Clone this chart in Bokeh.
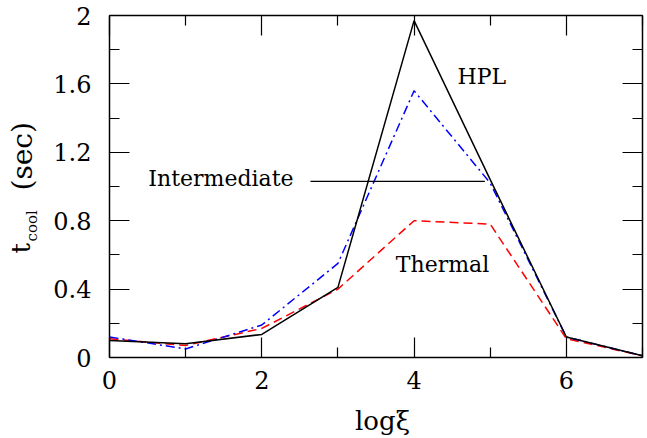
from bokeh.plotting import figure
from bokeh.models import Range1d, FixedTicker, LinearAxis
from bokeh.layouts import row, column
from bokeh.core.properties import value
from bokeh.embed import file_html
from bokeh.resources import INLINE
import math

# ---- data ----
log_xi = [0, 1, 2, 3, 4, 5, 6, 7]
hpl = [0.10, 0.08, 0.135, 0.41, 1.97, 1.04, 0.12, 0.01]
intermediate = [0.12, 0.05, 0.19, 0.55, 1.56, 1.02, 0.12, 0.01]
thermal = [0.11, 0.07, 0.17, 0.40, 0.80, 0.78, 0.11, 0.01]

x_major = [0, 2, 4, 6]
x_minor = [1, 3, 5, 7]
x_labels = ["0", "2", "4", "6"]
y_major = [0, 0.4, 0.8, 1.2, 1.6, 2.0]
y_minor = [0.2, 0.6, 1.0, 1.4, 1.8]
y_labels = ["0", "0.4", "0.8", "1.2", "1.6", "2"]

annot_line_x = [2.64, 4.93]
annot_line_y = [1.03, 1.03]
annot_text = ["Intermediate", "HPL", "Thermal"]
annot_x = [0.51, 4.57, 3.76]
annot_y = [1.047, 1.646, 0.544]

x_title = "log\u03be"
y_title_parts = ["t", "cool", "(sec)"]

FONT = "DejaVu Serif"
W, H = 647, 438
YLAB_W = 50
XLAB_H = 38

# ---- main plot ----
p = figure(width=W - YLAB_W, height=H - XLAB_H, x_range=Range1d(0, 7), y_range=Range1d(0, 2),
           output_backend="svg", toolbar_location=None,
           x_axis_location=None, y_axis_location=None,
           min_border_left=109 - YLAB_W, min_border_right=5, min_border_top=15,
           min_border_bottom=81 - XLAB_H)
p.xgrid.visible = False
p.ygrid.visible = False
p.outline_line_color = None

xt = FixedTicker(ticks=x_major, minor_ticks=x_minor)
yt = FixedTicker(ticks=y_major, minor_ticks=y_minor)

def style(ax, show_labels):
    ax.axis_line_color = "black"
    ax.axis_line_width = 1.5
    ax.major_tick_line_color = "black"
    ax.minor_tick_line_color = "black"
    ax.major_tick_line_width = 1.2
    ax.minor_tick_line_width = 1.2
    ax.major_tick_in = 20
    ax.major_tick_out = 0
    ax.minor_tick_in = 10
    ax.minor_tick_out = 0
    if show_labels:
        ax.major_label_text_font = FONT
        ax.major_label_text_font_size = "24px"
        ax.major_label_text_color = "black"
    else:
        ax.major_label_text_color = None
        ax.major_label_standoff = 0

bottom = LinearAxis(ticker=xt, major_label_overrides={t: l for t, l in zip(x_major, x_labels)})
style(bottom, True)
bottom.major_label_standoff = 13
left = LinearAxis(ticker=yt, major_label_overrides={t: l for t, l in zip(y_major, y_labels)})
style(left, True)
left.major_label_standoff = 18
top = LinearAxis(ticker=xt, major_label_overrides={t: "" for t in x_major})
style(top, False)
right = LinearAxis(ticker=yt, major_label_overrides={t: "" for t in y_major})
style(right, False)
p.add_layout(bottom, "below")
p.add_layout(left, "left")
p.add_layout(top, "above")
p.add_layout(right, "right")

p.line(log_xi, thermal, line_color="#ff0000", line_width=1.5, line_dash="9 5")
p.line(log_xi, intermediate, line_color="#0000ff", line_width=1.5, line_dash="9 4 2 4")
p.line(log_xi, hpl, line_color="black", line_width=1.5)
p.line(annot_line_x, annot_line_y, line_color="black", line_width=1.2)

p.text(x=annot_x, y=annot_y, text=annot_text, text_font=value(FONT), text_font_size="22px",
       text_color="black", text_align="left", text_baseline="middle")

# ---- title strips ----
def strip(w, h):
    f = figure(width=w, height=h, x_range=Range1d(0, w), y_range=Range1d(0, h),
               output_backend="svg", toolbar_location=None,
               x_axis_location=None, y_axis_location=None,
               min_border_left=0, min_border_right=0, min_border_top=0, min_border_bottom=0)
    f.xgrid.visible = False
    f.ygrid.visible = False
    f.outline_line_color = None
    return f

ylab = strip(YLAB_W, H)
ylab.text(x=[20], y=[H - 253], text=[y_title_parts[0]], angle=math.pi / 2,
          text_font=value(FONT), text_font_size="26px", text_color="black",
          text_align="left", text_baseline="middle")
ylab.text(x=[31], y=[H - 241], text=[y_title_parts[1]], angle=math.pi / 2,
          text_font=value(FONT), text_font_size="15px", text_color="black",
          text_align="left", text_baseline="middle")
ylab.text(x=[22], y=[H - 190], text=[y_title_parts[2]], angle=math.pi / 2,
          text_font=value(FONT), text_font_size="28px", text_color="black",
          text_align="left", text_baseline="middle")

xlab = strip(W - YLAB_W, XLAB_H)
xlab.text(x=[325 - YLAB_W], y=[H - 420], text=[x_title],
          text_font=value(FONT), text_font_size="26px", text_color="black",
          text_align="left", text_baseline="middle")

layout = row(ylab, column(p, xlab, spacing=0), spacing=0)
open("out.html", "w").write(file_html(layout, INLINE))
